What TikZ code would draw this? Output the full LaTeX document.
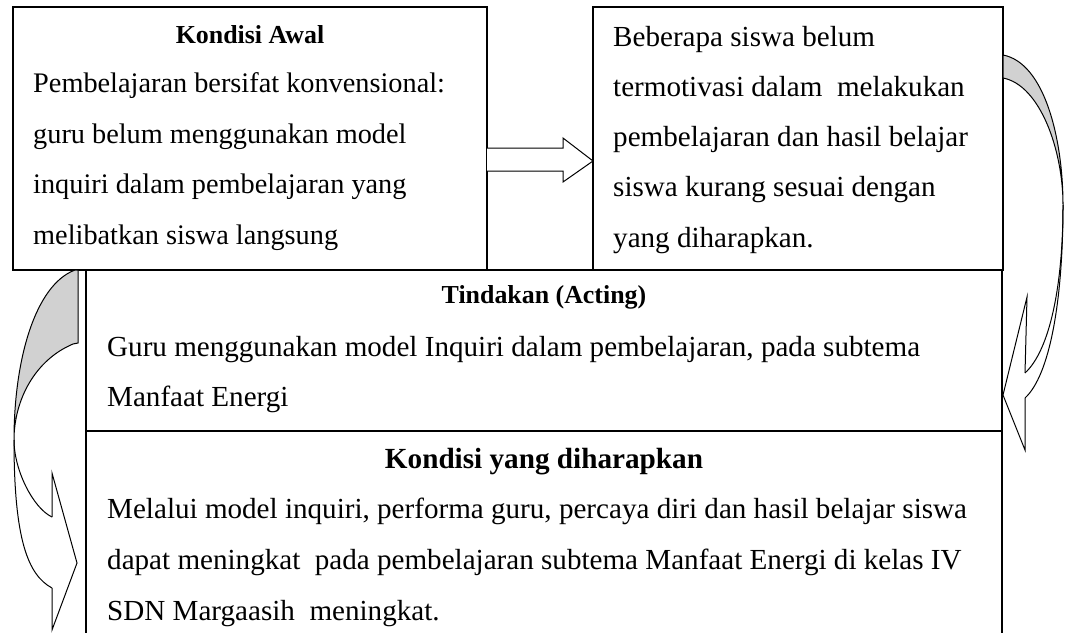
\documentclass[tikz,border=0pt]{standalone}
\usepackage{fontspec}
\setmainfont{Liberation Serif}
\newcommand\mylines[3]{\parbox[t]{980pt}{\fontsize{#1}{#2}\selectfont #3}}
\begin{document}
\begin{tikzpicture}[x=1pt,y=-1pt,
  box/.style={draw,line width=1.2pt,fill=white,outer sep=0pt,inner sep=0pt,anchor=north west},
  thickbox/.style={box,line width=1.8pt},
  body/.style={anchor=base west,inner sep=0pt},
  ttl/.style={anchor=base,inner sep=0pt,font=\bfseries\fontsize{25.9}{30}\selectfont},
  ttlbig/.style={anchor=base,inner sep=0pt,font=\bfseries\fontsize{29.2}{30}\selectfont},
  arr/.style={draw,line width=1pt,line join=miter,fill=white},
  shade/.style={draw,line width=1pt,fill=black!18}]
\useasboundingbox (0,0) rectangle (1065,632);
\clip (0,0) rectangle (1065,632);

% boxes
\node[box,minimum width=916pt,minimum height=161pt] (b3) at (86,270) {};
\node[box,minimum width=916pt,minimum height=222pt] (b4) at (86,431) {};
\node[thickbox,minimum width=474pt,minimum height=263pt] (b1) at (13,7) {};
\node[box,minimum width=410pt,minimum height=263pt] (b2) at (593,7) {};

% texts
\node[ttl] (t1) at (250,43) {Kondisi Awal};
\node[body] (x1) at (33,92.5) {\mylines{28.3}{50.7pt}{Pembelajaran bersifat konvensional:\\guru belum menggunakan model\\inquiri dalam pembelajaran yang\\melibatkan siswa langsung}};
\node[body] (x2) at (613,46) {\mylines{29.1}{50.3pt}{Beberapa siswa belum\\termotivasi dalam\ \ melakukan\\pembelajaran dan hasil belajar\\siswa kurang sesuai dengan\\yang diharapkan.}};
\node[ttl] (t3) at (544,303) {Tindakan (Acting)};
\node[body] (x3) at (107,356) {\mylines{29.1}{50pt}{Guru menggunakan model Inquiri dalam pembelajaran, pada subtema\\Manfaat Energi}};
\node[ttlbig] (t4) at (544,468) {Kondisi yang diharapkan};
\node[body] (x4) at (107,518) {\mylines{29.1}{51pt}{Melalui model inquiri, performa guru, percaya diri dan hasil belajar siswa\\dapat meningkat\ \ pada pembelajaran subtema Manfaat Energi di kelas IV\\SDN Margaasih\ \ meningkat.}};

% straight block arrow b1 -> b2
\coordinate (sa) at (b1.east |- 0,148);
\coordinate (sb) at (b1.east |- 0,171);
\coordinate (tip) at (b2.west |- 0,161);
\draw[arr] (sa) -- (563,148) -- (563,138) -- (tip) -- (563,182) -- (563,171) -- (sb);

% left curved arrow b1 -> b4
\draw[shade] (75,270) .. controls (35,285) and (14,360) .. (14,440)
   .. controls (14,400) and (35,360) .. (73,344) -- (78,343) -- (78,270) -- cycle;
\draw[line width=1pt] (14,440) .. controls (14,540) and (28,575) .. (52,588);
\draw[line width=1pt] (14,440) .. controls (14,470) and (33,508) .. (52,517);
\draw[line width=1pt,line join=miter] (52,517) -- (52,473) -- (77,563) -- (52,630) -- (52,588);

% right curved arrow b2 -> b3
\draw[shade] (1003,55) .. controls (1045,63) and (1063,140) .. (1063,205)
   .. controls (1063,150) and (1040,85) .. (1003,78) -- cycle;
\draw[line width=1pt] (1063,205) .. controls (1063,300) and (1050,375) .. (1025,398);
\draw[line width=1pt] (1063,205) .. controls (1063,285) and (1050,350) .. (1025,373);
\draw[line width=1pt,line join=miter] (1025,373) -- (1027,297) -- (1003,395) -- (1025,450) -- (1025,398);
\end{tikzpicture}
\end{document}
